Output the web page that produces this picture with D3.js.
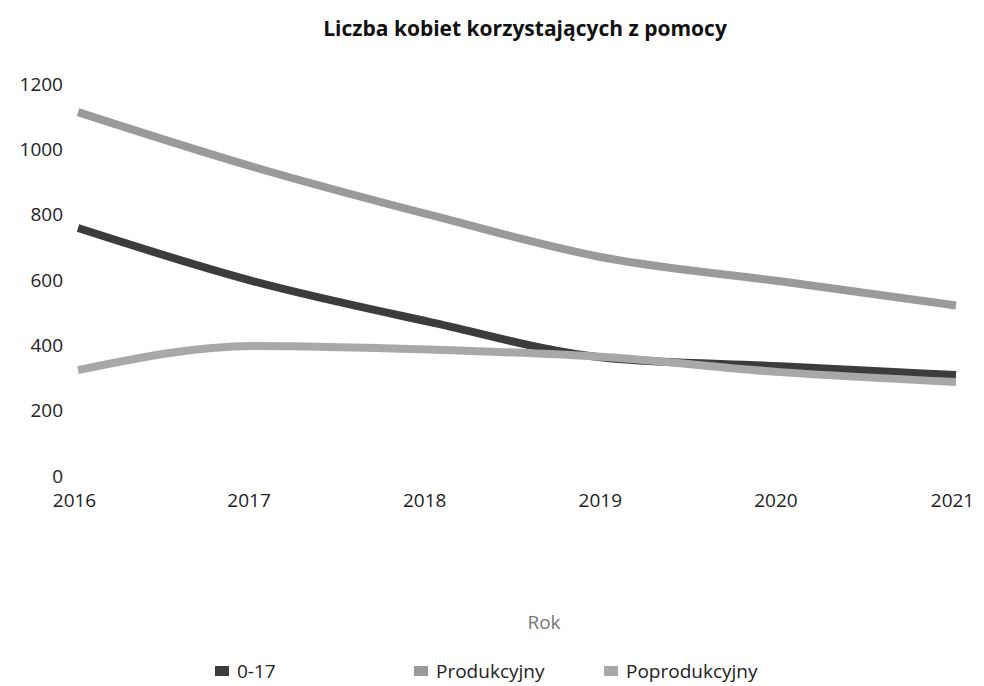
<!DOCTYPE html>
<html lang="pl">
<head>
    <meta charset="UTF-8">
    <title>Liczba kobiet</title>
    <script src="https://cdn.jsdelivr.net/npm/d3@7"></script>
    <style>
        body{ margin:0; background:#fff; }
        text{ font-family: "Open Sans", "Noto Sans", sans-serif; }
    </style>
</head>
<body>
</body>
<script type="text/javascript">

    let years = [2016, 2017, 2018, 2019, 2020, 2021];
    let ticksY = [0, 200, 400, 600, 800, 1000, 1200];
    let seriesNames = ["0-17", "Produkcyjny", "Poprodukcyjny"];
    let v017 = [759, 596, 472, 362, 336, 309];
    let vProd = [1114, 946, 800, 668, 596, 522];
    let vPoprod = [324, 398, 387, 364, 318, 288];
    let colors = ["#3c3c3c", "#9a9a9a", "#a8a8a8"];

    let series = [v017, vProd, vPoprod];

    let width = 984, height = 686;
    let svg = d3.select("body")
        .append("svg")
        .attr("width", width)
        .attr("height", height);

    let x = d3.scalePoint()
        .domain(years)
        .range([78, 956]);

    let y = d3.scaleLinear()
        .domain([0, 1200])
        .range([476, 84]);

    // title
    svg.append("text")
        .attr("x", 525).attr("y", 36)
        .attr("text-anchor", "middle")
        .attr("font-size", 21)
        .attr("font-weight", "bold")
        .attr("fill", "#111")
        .text("Liczba kobiet korzystających z pomocy");

    let yAxis = d3.axisLeft(y).tickValues(ticksY).tickFormat(d3.format("d")).tickSize(0).tickPadding(0);
    let yAxisGroup = svg.append("g")
        .attr("transform", "translate(63,0)");
    yAxis(yAxisGroup);
    yAxisGroup.select(".domain").remove();
    yAxisGroup.selectAll("text")
        .attr("font-size", 19)
        .attr("fill", "#222")
        .style("font-family", "'Open Sans', sans-serif");

    let xAxis = d3.axisBottom(x).tickFormat(d3.format("d")).tickSize(0).tickPadding(0);
    let xAxisGroup = svg.append("g")
        .attr("transform", "translate(0,493)");
    xAxis(xAxisGroup);
    xAxisGroup.select(".domain").remove();
    xAxisGroup.selectAll("text")
        .attr("font-size", 19)
        .attr("fill", "#222")
        .style("font-family", "'Open Sans', sans-serif");
    // labels sit a little left of the points, as in the original
    xAxisGroup.selectAll(".tick text")
        .attr("dx", (d, i) => i === 0 ? -4 : (i === years.length - 1 ? -4 : -5));

    let line = d3.line()
        .x((d, i) => x(years[i]))
        .y(d => y(d))
        .curve(d3.curveMonotoneX);

    // Produkcyjny first, then 0-17, then Poprodukcyjny over the crossing
    let order = [1, 0, 2];
    order.forEach(k => {
        svg.append("path")
            .datum(series[k])
            .attr("fill", "none")
            .attr("stroke", colors[k])
            .attr("stroke-width", 8)
            .attr("d", line);
    });

    // axis title
    svg.append("text")
        .attr("x", 544).attr("y", 629)
        .attr("text-anchor", "middle")
        .attr("font-size", 19)
        .attr("fill", "#777")
        .text("Rok");

    // legend
    let legendX = [215, 414, 604];
    let legend = svg.append("g").attr("transform", "translate(0,672)");
    seriesNames.forEach((name, i) => {
        legend.append("rect")
            .attr("x", legendX[i]).attr("y", -6)
            .attr("width", 14).attr("height", 10)
            .attr("fill", colors[i]);
        legend.append("text")
            .attr("x", legendX[i] + 22).attr("y", 6)
            .attr("font-size", 19)
            .attr("fill", "#222")
            .text(name);
    });
</script>
</html>
